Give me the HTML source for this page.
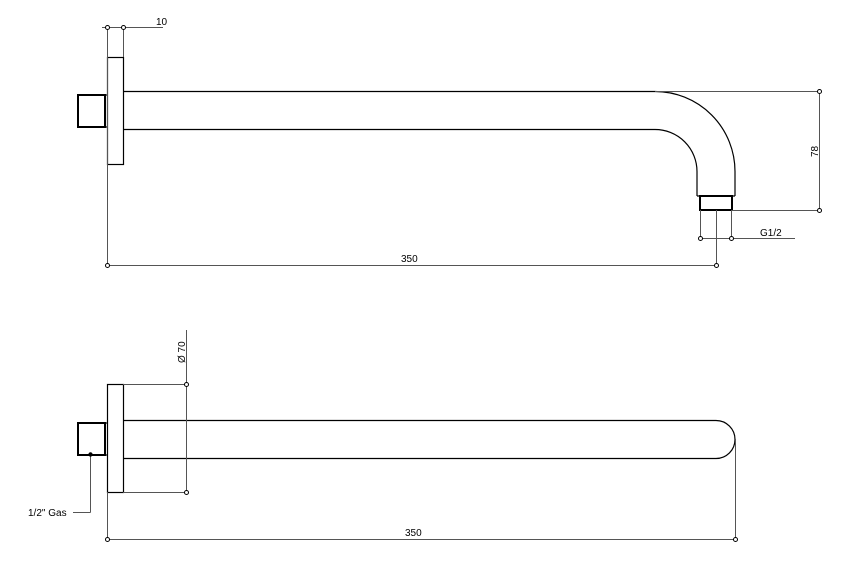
<!DOCTYPE html>
<html><head><style>
html,body{margin:0;padding:0;background:#fff;}
svg{display:block;}
text{font-family:"Liberation Sans",sans-serif;font-size:10px;fill:#000;}
</style></head><body>
<svg width="857" height="581" viewBox="0 0 857 581" xmlns="http://www.w3.org/2000/svg">
<g fill="none" stroke="#000" stroke-width="1.2">
<!-- TOP VIEW -->
<rect x="107.5" y="57.5" width="16" height="107"/>
<rect x="78" y="95" width="27" height="32" stroke-width="2"/>
<line x1="105" y1="95" x2="107" y2="95"/><line x1="105" y1="127" x2="107" y2="127"/>
<path d="M123.5 91.5 H655 A80 80 0 0 1 735 171.5 V196"/>
<path d="M123.5 129.5 H655 A42 42 0 0 1 697 171.5 V196"/>
<line x1="697" y1="196" x2="735" y2="196"/>
<rect x="700" y="196" width="32" height="14" stroke-width="2"/>
</g>
<g fill="none" stroke="#555" stroke-width="1">
<line x1="107.5" y1="27" x2="107.5" y2="265"/>
<line x1="123.5" y1="27" x2="123.5" y2="57"/>
<line x1="102" y1="27.5" x2="163" y2="27.5"/>
<line x1="655" y1="91.5" x2="819" y2="91.5"/>
<line x1="732" y1="210.5" x2="819" y2="210.5"/>
<line x1="819.5" y1="91" x2="819.5" y2="210"/>
<line x1="700.5" y1="210" x2="700.5" y2="238"/>
<line x1="731.5" y1="210" x2="731.5" y2="238"/>
<line x1="700" y1="238.5" x2="795" y2="238.5"/>
<line x1="716.5" y1="210" x2="716.5" y2="265"/>
<line x1="107" y1="265.5" x2="716" y2="265.5"/>
</g>
<g fill="#fff" stroke="#000" stroke-width="1">
<circle cx="107.5" cy="27.5" r="2"/><circle cx="123.5" cy="27.5" r="2"/>
<circle cx="819.5" cy="91.5" r="2"/><circle cx="819.5" cy="210.5" r="2"/>
<circle cx="700.5" cy="238.5" r="2"/><circle cx="731.5" cy="238.5" r="2"/>
<circle cx="107.5" cy="265.5" r="2"/><circle cx="716.5" cy="265.5" r="2"/>
</g>
<text x="156" y="25">10</text>
<text x="760" y="236">G1/2</text>
<text x="401" y="262">350</text>
<text transform="translate(818,157) rotate(-90)">78</text>

<!-- BOTTOM VIEW -->
<g fill="none" stroke="#000" stroke-width="1.2">
<rect x="107.5" y="384.5" width="16" height="108"/>
<rect x="78" y="423" width="27" height="32" stroke-width="2"/>
<line x1="105" y1="423" x2="107" y2="423"/><line x1="105" y1="455" x2="107" y2="455"/>
<path d="M123.5 420.5 H716 A19 19 0 0 1 716 458.5 H123.5"/>
</g>
<g fill="none" stroke="#555" stroke-width="1">
<line x1="123" y1="384.5" x2="186" y2="384.5"/>
<line x1="123" y1="492.5" x2="186" y2="492.5"/>
<line x1="186.5" y1="330" x2="186.5" y2="492"/>
<line x1="90.5" y1="455" x2="90.5" y2="512.5"/>
<line x1="90.5" y1="512.5" x2="73" y2="512.5"/>
<line x1="107.5" y1="492" x2="107.5" y2="539"/>
<line x1="735.5" y1="439" x2="735.5" y2="539"/>
<line x1="107" y1="539.5" x2="735" y2="539.5"/>
</g>
<g fill="#fff" stroke="#000" stroke-width="1">
<circle cx="186.5" cy="384.5" r="2"/><circle cx="186.5" cy="492.5" r="2"/>
<circle cx="107.5" cy="539.5" r="2"/><circle cx="735.5" cy="539.5" r="2"/>
</g>
<circle cx="90.5" cy="454.5" r="2.2" fill="#000"/>
<text transform="translate(185,363) rotate(-90)">Ø 70</text>
<text x="28" y="516">1/2" Gas</text>
<text x="405" y="536">350</text>
</svg>
</body></html>
